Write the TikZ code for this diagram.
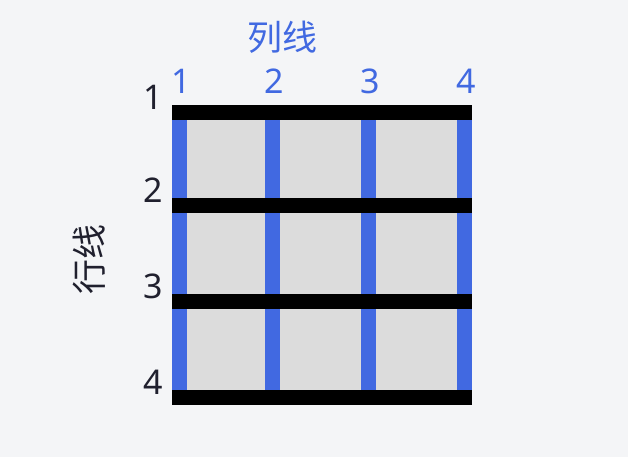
\documentclass[tikz,border=0pt]{standalone}
\usepackage{fontspec}
\setmainfont{Noto Sans}
\newfontfamily\cjk{Noto Sans CJK SC}
\usetikzlibrary{positioning}

\definecolor{pagebg}{HTML}{F4F5F7}
\definecolor{colblue}{HTML}{4169E1}
\definecolor{cellgray}{HTML}{DCDCDC}
\definecolor{rowink}{HTML}{20202E}

\tikzset{
  collbl/.style={text=colblue, inner sep=0pt, font=\fontsize{34}{34}\selectfont},
  rowlbl/.style={text=rowink, inner sep=0pt, anchor=east, font=\fontsize{34}{34}\selectfont},
  title/.style={inner sep=0pt, font=\cjk\fontsize{35}{35}\selectfont},
  colbar/.style={fill=colblue},
  rowbar/.style={fill=black}
}

\begin{document}
\begin{tikzpicture}[x=1pt,y=-1pt]

  % Background and cells
\fill[pagebg] (0,0) rectangle (628,457);
\fill[cellgray] (172,105) rectangle (472,405);

  % Column lines
\foreach \n/\x in {1/179.5, 2/272.5, 3/368.5, 4/464.5} {
  \fill[colbar] (\x-7.5,105) rectangle (\x+7.5,405);
  \node[collbl] (c\n) at (\x+2,81) {\n};
}

  % Row lines
\foreach \n/\y in {1/112.5, 2/205.5, 3/301.5, 4/397.5} {
  \fill[rowbar] (172,\y-7.5) rectangle (472,\y+7.5);
  \node[rowlbl] (r\n) at (163,\y-15.5) {\n};
}

  % Titles
\node[title, text=colblue] (collines) at (282.5,37) {列线};
\node[title, text=rowink, rotate=90] (rowlines) at (89,259) {行线};

\end{tikzpicture}
\end{document}
